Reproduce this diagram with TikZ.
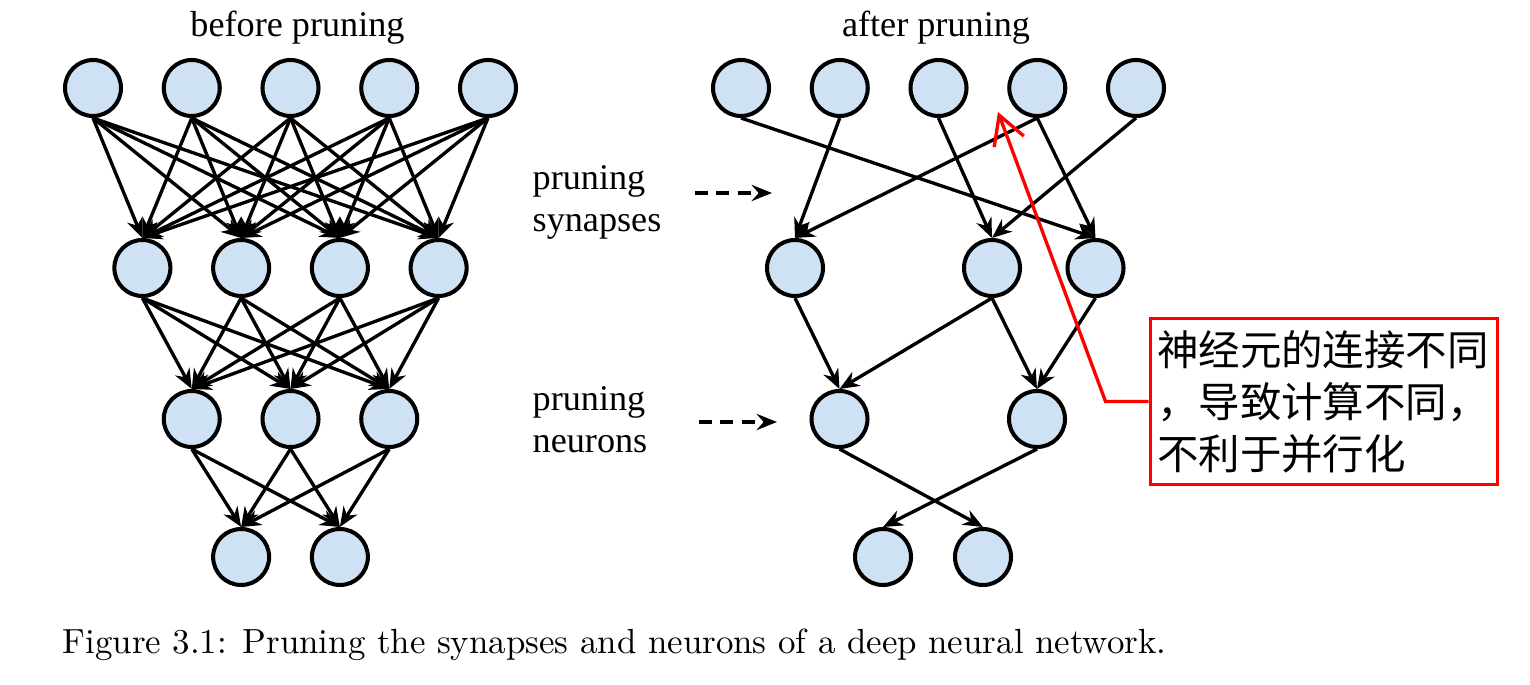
\documentclass[tikz,border=0pt]{standalone}
\usepackage{fontspec}
\newfontfamily\labelfont{Liberation Serif}
\newfontfamily\cjkfont{Noto Sans CJK SC}
\usetikzlibrary{positioning,arrows.meta,calc}
\definecolor{neuronblue}{RGB}{207,226,243}

\begin{document}
\begin{tikzpicture}[
  neuron/.style={circle, draw=black, line width=1.15pt, fill=neuronblue, minimum size=0.56cm, inner sep=0pt},
  syn/.style={-{Stealth[length=5.6pt, width=4.6pt, inset=1.8pt]}, line width=0.95pt},
  lbl/.style={font=\labelfont\fontsize{10.3}{12}\selectfont, inner sep=0pt},
  prunearr/.style={-{Stealth[length=5.8pt, width=4.6pt, inset=2pt]}, line width=1.1pt, dash pattern=on 3.7pt off 2.4pt},
  note/.style={draw=red, line width=1.05pt, font=\cjkfont\fontsize{11.8}{14.8}\selectfont, text width=95pt,
    align=left, inner xsep=1.9pt, minimum height=44.7pt},
  noteline/.style={red, line width=0.95pt, -{Straight Barb[length=8pt, width=9pt]}}]
\useasboundingbox (0,0) rectangle (15.3,6.84);
\foreach \i in {1,...,5} \node[neuron] (a\i) at ({2.905+(\i-3)*0.9875},5.96) {};
\foreach \i in {1,...,4} \node[neuron] (b\i) at ({2.905+(\i-2.5)*0.9875},4.16) {};
\foreach \i in {1,...,3} \node[neuron] (c\i) at ({2.905+(\i-2)*0.9875},2.65) {};
\foreach \i in {1,2} \node[neuron] (d\i) at ({2.905+(\i-1.5)*0.9875},1.27) {};
\foreach \i in {1,...,5} \foreach \j in {1,...,4} \draw[syn] (a\i.south) -- (b\j.north);
\foreach \i in {1,...,4} \foreach \j in {1,...,3} \draw[syn] (b\i.south) -- (c\j.north);
\foreach \i in {1,...,3} \foreach \j in {1,2} \draw[syn] (c\i.south) -- (d\j.north);

\foreach \i in {1,...,5} \node[neuron] (ra\i) at ({7.41+(\i-1)*0.9875},5.96) {};
\node[neuron] (rb1) at (7.95,4.16) {};
\node[neuron] (rb2) at (9.92,4.16) {};
\node[neuron] (rb3) at (10.955,4.16) {};
\node[neuron] (rc1) at (8.395,2.65) {};
\node[neuron] (rc2) at (10.37,2.65) {};
\node[neuron] (rd1) at (8.83,1.27) {};
\node[neuron] (rd2) at (9.83,1.27) {};
\foreach \s/\t in {ra1/rb3, ra2/rb1, ra3/rb2, ra4/rb1, ra4/rb3, ra5/rb2,
  rb1/rc1, rb2/rc1, rb2/rc2, rb3/rc2, rc1/rd2, rc2/rd1}
  \draw[syn] (\s.south) -- (\t.north);

\node[lbl, anchor=base] (before) at (2.975,6.47) {before pruning};
\node[lbl, anchor=base] (after) at (9.36,6.47) {after pruning};
\node[lbl, anchor=base west, align=left] (synlbl) at (5.32,4.52) {pruning\\synapses};
\node[lbl, anchor=base west, align=left] (neulbl) at (5.32,2.31) {pruning\\neurons};
\coordinate (syn0) at (6.95,4.91);
\coordinate (syn1) at (7.72,4.91);
\coordinate (neu0) at (6.99,2.62);
\coordinate (neu1) at (7.77,2.62);
\draw[prunearr] (syn0) -- (syn1);
\draw[prunearr] (neu0) -- (neu1);

\node[note] (note) at (13.24,2.825) {神经元的连接不同\\，导致计算不同，\\不利于并行化};
\coordinate (tip) at (9.98,5.72);
\draw[noteline] (note.west) -- ++(-0.43,0) -- (tip);

\node[anchor=base west, inner sep=0pt, font=\fontsize{9.93}{12}\selectfont] (caption) at (0.62,0.31)
  {Figure 3.1: Pruning the synapses and neurons of a deep neural network.};
\end{tikzpicture}
\end{document}
